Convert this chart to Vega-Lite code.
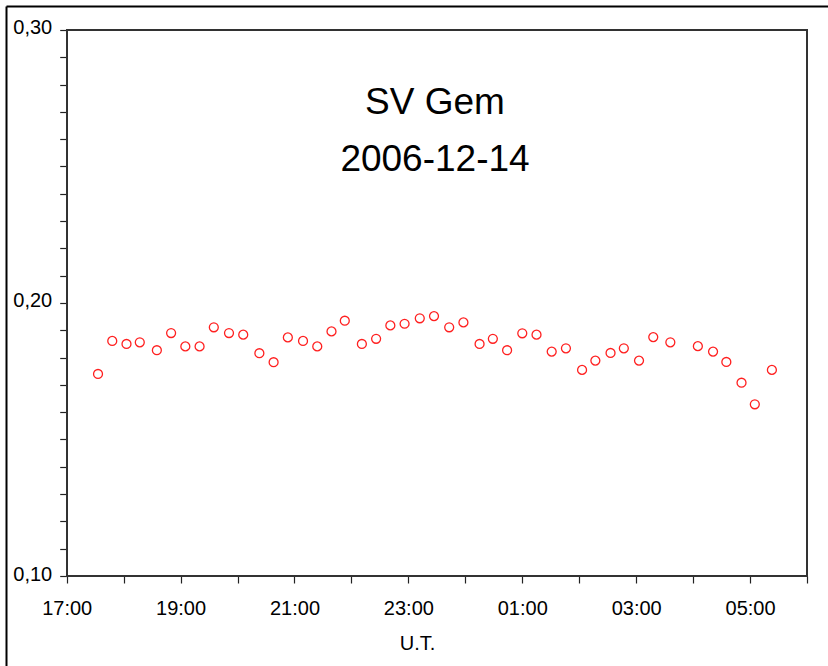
{
  "$schema": "https://vega.github.io/schema/vega-lite/v6.json",
  "width": 822,
  "height": 660,
  "autosize": {"type": "none"},
  "padding": {"left": 6, "top": 6, "right": 0, "bottom": 0},
  "background": "white",
  "config": {"view": {"stroke": null}},
  "title": {
    "text": ["SV Gem", "2006-12-14"],
    "orient": "top",
    "anchor": "middle",
    "frame": "group",
    "baseline": "top",
    "offset": -173,
    "dx": 18,
    "lineHeight": 57,
    "font": "Liberation Sans",
    "fontSize": 37,
    "fontWeight": "normal",
    "color": "black"
  },
  "data": {
    "values": [
      {"ut": "2006-12-14T17:33:00Z", "flux": 0.1740},
      {"ut": "2006-12-14T17:48:00Z", "flux": 0.1861},
      {"ut": "2006-12-14T18:03:00Z", "flux": 0.1850},
      {"ut": "2006-12-14T18:17:00Z", "flux": 0.1856},
      {"ut": "2006-12-14T18:35:00Z", "flux": 0.1827},
      {"ut": "2006-12-14T18:50:00Z", "flux": 0.1890},
      {"ut": "2006-12-14T19:05:00Z", "flux": 0.1841},
      {"ut": "2006-12-14T19:20:00Z", "flux": 0.1841},
      {"ut": "2006-12-14T19:35:00Z", "flux": 0.1911},
      {"ut": "2006-12-14T19:51:00Z", "flux": 0.1890},
      {"ut": "2006-12-14T20:06:00Z", "flux": 0.1884},
      {"ut": "2006-12-14T20:23:00Z", "flux": 0.1816},
      {"ut": "2006-12-14T20:38:00Z", "flux": 0.1783},
      {"ut": "2006-12-14T20:53:00Z", "flux": 0.1874},
      {"ut": "2006-12-14T21:09:00Z", "flux": 0.1861},
      {"ut": "2006-12-14T21:24:00Z", "flux": 0.1841},
      {"ut": "2006-12-14T21:39:00Z", "flux": 0.1896},
      {"ut": "2006-12-14T21:53:00Z", "flux": 0.1935},
      {"ut": "2006-12-14T22:11:00Z", "flux": 0.1850},
      {"ut": "2006-12-14T22:26:00Z", "flux": 0.1869},
      {"ut": "2006-12-14T22:41:00Z", "flux": 0.1918},
      {"ut": "2006-12-14T22:56:00Z", "flux": 0.1924},
      {"ut": "2006-12-14T23:12:00Z", "flux": 0.1944},
      {"ut": "2006-12-14T23:27:00Z", "flux": 0.1952},
      {"ut": "2006-12-14T23:43:00Z", "flux": 0.1911},
      {"ut": "2006-12-14T23:58:00Z", "flux": 0.1929},
      {"ut": "2006-12-15T00:15:00Z", "flux": 0.1850},
      {"ut": "2006-12-15T00:29:00Z", "flux": 0.1869},
      {"ut": "2006-12-15T00:44:00Z", "flux": 0.1827},
      {"ut": "2006-12-15T01:00:00Z", "flux": 0.1889},
      {"ut": "2006-12-15T01:15:00Z", "flux": 0.1884},
      {"ut": "2006-12-15T01:31:00Z", "flux": 0.1822},
      {"ut": "2006-12-15T01:46:00Z", "flux": 0.1834},
      {"ut": "2006-12-15T02:03:00Z", "flux": 0.1755},
      {"ut": "2006-12-15T02:17:00Z", "flux": 0.1789},
      {"ut": "2006-12-15T02:33:00Z", "flux": 0.1817},
      {"ut": "2006-12-15T02:47:00Z", "flux": 0.1834},
      {"ut": "2006-12-15T03:03:00Z", "flux": 0.1789},
      {"ut": "2006-12-15T03:18:00Z", "flux": 0.1875},
      {"ut": "2006-12-15T03:36:00Z", "flux": 0.1856},
      {"ut": "2006-12-15T04:05:00Z", "flux": 0.1842},
      {"ut": "2006-12-15T04:21:00Z", "flux": 0.1822},
      {"ut": "2006-12-15T04:35:00Z", "flux": 0.1784},
      {"ut": "2006-12-15T04:51:00Z", "flux": 0.1708},
      {"ut": "2006-12-15T05:05:00Z", "flux": 0.1629},
      {"ut": "2006-12-15T05:23:00Z", "flux": 0.1755}
    ]
  },
  "resolve": {"axis": {"x": "independent", "y": "independent"}},
  "layer": [
    {
      "mark": {"type": "rect", "fill": null, "fillOpacity": 0, "stroke": "#333333", "strokeWidth": 1.3},
      "encoding": {
        "x": {
          "datum": {"year": 2006, "month": 12, "date": 14, "hours": 17, "minutes": 0, "utc": true},
          "type": "temporal",
          "scale": {
            "type": "utc",
            "domain": [
              {"year": 2006, "month": 12, "date": 14, "hours": 15, "minutes": 56, "seconds": 3, "utc": true},
              {"year": 2006, "month": 12, "date": 15, "hours": 6, "minutes": 22, "seconds": 7, "utc": true}
            ],
            "nice": false
          },
          "axis": {"orient": "top", "offset": 0, "domain": true, "domainColor": "black", "domainWidth": 2, "ticks": false, "labels": false, "grid": false, "title": null}
        },
        "x2": {"datum": {"year": 2006, "month": 12, "date": 15, "hours": 6, "minutes": 0, "utc": true}},
        "y": {
          "datum": 0.1,
          "type": "quantitative",
          "scale": {"domain": [0.067033, 0.308791], "nice": false, "zero": false},
          "axis": {"orient": "left", "offset": 0, "domain": true, "domainColor": "black", "domainWidth": 2, "ticks": false, "labels": false, "grid": false, "title": null}
        },
        "y2": {"datum": 0.3}
      }
    },
    {
      "mark": {"type": "point", "shape": "circle", "filled": false, "color": "#ff2020", "size": 80, "strokeWidth": 1.3, "opacity": 1},
      "encoding": {
        "x": {
          "field": "ut",
          "type": "temporal",
          "axis": {
            "orient": "bottom",
            "offset": -90,
            "domain": false,
            "grid": false,
            "values": [
              {"year": 2006, "month": 12, "date": 14, "hours": 17, "utc": true},
              {"year": 2006, "month": 12, "date": 14, "hours": 18, "utc": true},
              {"year": 2006, "month": 12, "date": 14, "hours": 19, "utc": true},
              {"year": 2006, "month": 12, "date": 14, "hours": 20, "utc": true},
              {"year": 2006, "month": 12, "date": 14, "hours": 21, "utc": true},
              {"year": 2006, "month": 12, "date": 14, "hours": 22, "utc": true},
              {"year": 2006, "month": 12, "date": 14, "hours": 23, "utc": true},
              {"year": 2006, "month": 12, "date": 15, "hours": 0, "utc": true},
              {"year": 2006, "month": 12, "date": 15, "hours": 1, "utc": true},
              {"year": 2006, "month": 12, "date": 15, "hours": 2, "utc": true},
              {"year": 2006, "month": 12, "date": 15, "hours": 3, "utc": true},
              {"year": 2006, "month": 12, "date": 15, "hours": 4, "utc": true},
              {"year": 2006, "month": 12, "date": 15, "hours": 5, "utc": true},
              {"year": 2006, "month": 12, "date": 15, "hours": 6, "utc": true}
            ],
            "labelExpr": "utchours(datum.value) % 2 == 1 ? utcFormat(datum.value, '%H:%M') : ''",
            "labelFont": "Liberation Sans",
            "labelFontSize": 20,
            "labelColor": "black",
            "labelPadding": 15,
            "labelFlush": false,
            "labelOverlap": false,
            "tickSize": 7,
            "tickColor": "#222222",
            "tickWidth": 1.2,
            "title": "U.T.",
            "titleFont": "Liberation Sans",
            "titleFontSize": 20,
            "titleFontWeight": "normal",
            "titleColor": "black",
            "titlePadding": 15,
            "encode": {
              "ticks": {
                "update": {
                  "y": {"signal": "utchours(datum.value) % 2 == 1 ? -7 : -4"},
                  "y2": {"signal": "utchours(datum.value) % 2 == 1 ? 7 : 0"}
                }
              }
            }
          }
        },
        "y": {
          "field": "flux",
          "type": "quantitative",
          "axis": {
            "orient": "left",
            "offset": -60.7,
            "domain": false,
            "grid": false,
            "values": [0.1, 0.11, 0.12, 0.13, 0.14, 0.15, 0.16, 0.17, 0.18, 0.19, 0.2, 0.21, 0.22, 0.23, 0.24, 0.25, 0.26, 0.27, 0.28, 0.29, 0.3],
            "labelExpr": "abs(datum.value * 10 - round(datum.value * 10)) < 0.001 ? replace(format(datum.value, '.2f'), '.', ',') : ''",
            "labelFont": "Liberation Sans",
            "labelFontSize": 20,
            "labelColor": "black",
            "labelPadding": 8,
            "labelOffset": -2,
            "labelFlush": false,
            "labelOverlap": false,
            "tickSize": 7,
            "tickColor": "#222222",
            "tickWidth": 1.2,
            "title": null,
            "encode": {
              "ticks": {
                "update": {
                  "x": {"signal": "abs(datum.value * 10 - round(datum.value * 10)) < 0.001 ? -7 : 0"},
                  "x2": {"value": 4}
                }
              }
            }
          }
        }
      }
    }
  ]
}
